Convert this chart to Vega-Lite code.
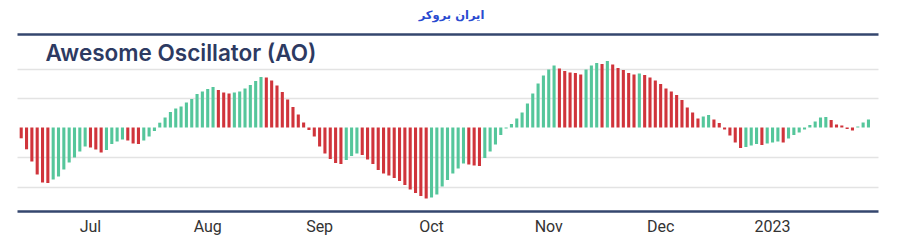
{
  "$schema": "https://vega.github.io/schema/vega-lite/v6.json",
  "width": 861,
  "height": 177,
  "autosize": {"type": "none"},
  "padding": {"left": 17, "top": 34, "right": 22, "bottom": 39},
  "background": "#ffffff",
  "config": {"view": {"stroke": null}},
  "title": {
    "text": "ایران بروکر",
    "font": "DejaVu Sans",
    "fontSize": 11.5,
    "fontWeight": "bold",
    "color": "#2a4bd0",
    "anchor": "middle",
    "frame": "group",
    "offset": 13,
    "dx": 4
  },
  "data": {
    "values": [
      {"i":0,"ao":-10.8,"dir":"down"},{"i":1,"ao":-21.8,"dir":"down"},{"i":2,"ao":-34,"dir":"down"},{"i":3,"ao":-47,"dir":"down"},{"i":4,"ao":-55,"dir":"down"},
      {"i":5,"ao":-55.5,"dir":"down"},{"i":6,"ao":-52,"dir":"up"},{"i":7,"ao":-49,"dir":"up"},{"i":8,"ao":-42,"dir":"up"},{"i":9,"ao":-35,"dir":"up"},
      {"i":10,"ao":-30,"dir":"up"},{"i":11,"ao":-24,"dir":"up"},{"i":12,"ao":-19,"dir":"up"},{"i":13,"ao":-20,"dir":"down"},{"i":14,"ao":-22,"dir":"down"},
      {"i":15,"ao":-25,"dir":"down"},{"i":16,"ao":-22.5,"dir":"up"},{"i":17,"ao":-16.5,"dir":"up"},{"i":18,"ao":-14,"dir":"up"},{"i":19,"ao":-12,"dir":"up"},
      {"i":20,"ao":-13,"dir":"down"},{"i":21,"ao":-16,"dir":"down"},{"i":22,"ao":-16.5,"dir":"down"},{"i":23,"ao":-13,"dir":"up"},{"i":24,"ao":-9,"dir":"up"},
      {"i":25,"ao":-3.5,"dir":"up"},{"i":26,"ao":4.8,"dir":"up"},{"i":27,"ao":10,"dir":"up"},{"i":28,"ao":15.5,"dir":"up"},{"i":29,"ao":19,"dir":"up"},
      {"i":30,"ao":21,"dir":"up"},{"i":31,"ao":25,"dir":"up"},{"i":32,"ao":28.5,"dir":"up"},{"i":33,"ao":33.5,"dir":"up"},{"i":34,"ao":36,"dir":"up"},
      {"i":35,"ao":38.5,"dir":"up"},{"i":36,"ao":40.5,"dir":"up"},{"i":37,"ao":37.5,"dir":"down"},{"i":38,"ao":35,"dir":"down"},{"i":39,"ao":34,"dir":"down"},
      {"i":40,"ao":35,"dir":"up"},{"i":41,"ao":36,"dir":"up"},{"i":42,"ao":39,"dir":"up"},{"i":43,"ao":42.5,"dir":"up"},{"i":44,"ao":46.5,"dir":"up"},
      {"i":45,"ao":50.5,"dir":"up"},{"i":46,"ao":50,"dir":"down"},{"i":47,"ao":47,"dir":"down"},{"i":48,"ao":42,"dir":"down"},{"i":49,"ao":35.5,"dir":"down"},
      {"i":50,"ao":28,"dir":"down"},{"i":51,"ao":20.5,"dir":"down"},{"i":52,"ao":13,"dir":"down"},{"i":53,"ao":5,"dir":"down"},{"i":54,"ao":-2.5,"dir":"down"},
      {"i":55,"ao":-9,"dir":"down"},{"i":56,"ao":-19,"dir":"down"},{"i":57,"ao":-26,"dir":"down"},{"i":58,"ao":-31.5,"dir":"down"},{"i":59,"ao":-35.5,"dir":"down"},
      {"i":60,"ao":-36.5,"dir":"down"},{"i":61,"ao":-32.5,"dir":"up"},{"i":62,"ao":-28.5,"dir":"up"},{"i":63,"ao":-26,"dir":"up"},{"i":64,"ao":-27.5,"dir":"down"},
      {"i":65,"ao":-32,"dir":"down"},{"i":66,"ao":-36.5,"dir":"down"},{"i":67,"ao":-42.5,"dir":"down"},{"i":68,"ao":-46,"dir":"down"},{"i":69,"ao":-48,"dir":"down"},
      {"i":70,"ao":-50.5,"dir":"down"},{"i":71,"ao":-53.5,"dir":"down"},{"i":72,"ao":-57.5,"dir":"down"},{"i":73,"ao":-62,"dir":"down"},{"i":74,"ao":-65.5,"dir":"down"},
      {"i":75,"ao":-68.5,"dir":"down"},{"i":76,"ao":-71,"dir":"down"},{"i":77,"ao":-70,"dir":"up"},{"i":78,"ao":-67,"dir":"up"},{"i":79,"ao":-59,"dir":"up"},
      {"i":80,"ao":-52.5,"dir":"up"},{"i":81,"ao":-46,"dir":"up"},{"i":82,"ao":-41,"dir":"up"},{"i":83,"ao":-36,"dir":"up"},{"i":84,"ao":-37,"dir":"down"},
      {"i":85,"ao":-38,"dir":"down"},{"i":86,"ao":-38.5,"dir":"down"},{"i":87,"ao":-30.5,"dir":"up"},{"i":88,"ao":-24,"dir":"up"},{"i":89,"ao":-17,"dir":"up"},
      {"i":90,"ao":-7.5,"dir":"up"},{"i":91,"ao":-1,"dir":"up"},{"i":92,"ao":3.5,"dir":"up"},{"i":93,"ao":9,"dir":"up"},{"i":94,"ao":15,"dir":"up"},
      {"i":95,"ao":24,"dir":"up"},{"i":96,"ao":34,"dir":"up"},{"i":97,"ao":44,"dir":"up"},{"i":98,"ao":52,"dir":"up"},{"i":99,"ao":58,"dir":"up"},
      {"i":100,"ao":62,"dir":"up"},{"i":101,"ao":59,"dir":"down"},{"i":102,"ao":56.5,"dir":"down"},{"i":103,"ao":55,"dir":"down"},{"i":104,"ao":54.5,"dir":"down"},
      {"i":105,"ao":53,"dir":"down"},{"i":106,"ao":58,"dir":"up"},{"i":107,"ao":62,"dir":"up"},{"i":108,"ao":64.5,"dir":"up"},{"i":109,"ao":63.5,"dir":"down"},
      {"i":110,"ao":66.5,"dir":"up"},{"i":111,"ao":63,"dir":"down"},{"i":112,"ao":59.5,"dir":"down"},{"i":113,"ao":57.5,"dir":"down"},{"i":114,"ao":54.5,"dir":"down"},
      {"i":115,"ao":53,"dir":"down"},{"i":116,"ao":54,"dir":"up"},{"i":117,"ao":52.5,"dir":"down"},{"i":118,"ao":50,"dir":"down"},{"i":119,"ao":47,"dir":"down"},
      {"i":120,"ao":43.5,"dir":"down"},{"i":121,"ao":39,"dir":"down"},{"i":122,"ao":36,"dir":"down"},{"i":123,"ao":32.5,"dir":"down"},{"i":124,"ao":27.5,"dir":"down"},
      {"i":125,"ao":20,"dir":"down"},{"i":126,"ao":15,"dir":"down"},{"i":127,"ao":9,"dir":"down"},{"i":128,"ao":11,"dir":"up"},{"i":129,"ao":12.5,"dir":"up"},
      {"i":130,"ao":8,"dir":"down"},{"i":131,"ao":4.5,"dir":"down"},{"i":132,"ao":-2,"dir":"down"},{"i":133,"ao":-8,"dir":"down"},{"i":134,"ao":-15,"dir":"down"},
      {"i":135,"ao":-20.5,"dir":"down"},{"i":136,"ao":-19.5,"dir":"up"},{"i":137,"ao":-18,"dir":"up"},{"i":138,"ao":-16.5,"dir":"up"},{"i":139,"ao":-17.5,"dir":"down"},
      {"i":140,"ao":-16,"dir":"up"},{"i":141,"ao":-15,"dir":"up"},{"i":142,"ao":-14,"dir":"up"},{"i":143,"ao":-15,"dir":"down"},{"i":144,"ao":-11,"dir":"up"},
      {"i":145,"ao":-7.5,"dir":"up"},{"i":146,"ao":-5,"dir":"up"},{"i":147,"ao":-2,"dir":"up"},{"i":148,"ao":2.5,"dir":"up"},{"i":149,"ao":6,"dir":"up"},
      {"i":150,"ao":10,"dir":"up"},{"i":151,"ao":10.5,"dir":"up"},{"i":152,"ao":7.5,"dir":"down"},{"i":153,"ao":3,"dir":"down"},{"i":154,"ao":2,"dir":"down"},
      {"i":155,"ao":-1.5,"dir":"down"},{"i":156,"ao":-3,"dir":"down"},{"i":157,"ao":1,"dir":"up"},{"i":158,"ao":5,"dir":"up"},{"i":159,"ao":8,"dir":"up"}
    ]
  },
  "layer": [
    {
      "mark": {"type": "bar"},
      "encoding": {
        "x": {
          "field": "i",
          "type": "ordinal",
          "scale": {"paddingInner": 0.42, "paddingOuter": 1.22, "align": 0.25, "round": false},
          "axis": {
            "orient": "bottom",
            "values": [13, 35, 56, 77, 99, 120, 141],
            "labelExpr": "datum.value == 13 ? 'Jul' : datum.value == 35 ? 'Aug' : datum.value == 56 ? 'Sep' : datum.value == 77 ? 'Oct' : datum.value == 99 ? 'Nov' : datum.value == 120 ? 'Dec' : '2023'",
            "labelAngle": 0,
            "labelFont": "Roboto",
            "labelFontSize": 16,
            "labelColor": "#333333",
            "labelPadding": 7,
            "ticks": false,
            "tickSize": 0,
            "grid": false,
            "domain": true,
            "domainColor": "#34466e",
            "domainWidth": 2.5,
            "title": null
          }
        },
        "y": {
          "field": "ao",
          "type": "quantitative",
          "scale": {"domain": [-83.5, 93.5], "nice": false},
          "axis": {
            "values": [-59, -29.5, 29.5, 59],
            "grid": true,
            "gridColor": "#e3e3e3",
            "gridWidth": 1.5,
            "labels": false,
            "ticks": false,
            "domain": false,
            "title": null
          }
        },
        "color": {
          "field": "dir",
          "type": "nominal",
          "scale": {"domain": ["up", "down"], "range": ["#55c69b", "#d0343b"]},
          "legend": null
        }
      }
    },
    {
      "mark": {"type": "rule", "opacity": 0},
      "encoding": {
        "x": {
          "field": "i",
          "type": "ordinal",
          "axis": {
            "orient": "top",
            "labels": false,
            "ticks": false,
            "grid": false,
            "domain": true,
            "domainColor": "#34466e",
            "domainWidth": 2.5,
            "title": "Awesome Oscillator (AO)",
            "titleX": 28,
            "titleY": 8,
            "titleAlign": "left",
            "titleBaseline": "top",
            "titleFont": "Inter",
            "titleFontSize": 22.5,
            "titleFontWeight": 600,
            "titleColor": "#2d3a62"
          }
        }
      }
    }
  ],
  "resolve": {"axis": {"x": "independent"}}
}
